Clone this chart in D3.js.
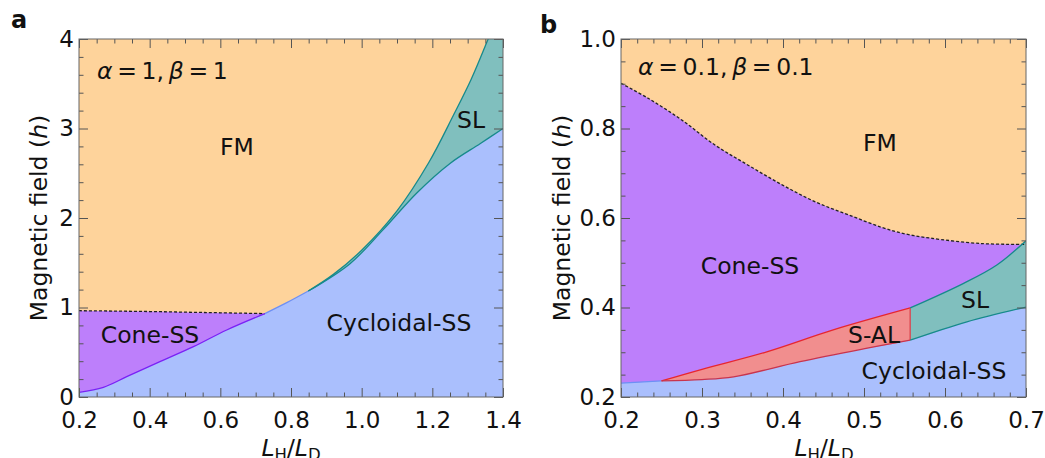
<!DOCTYPE html>
<html>
<head>
<meta charset="utf-8">
<script src="https://cdn.jsdelivr.net/npm/d3@7"></script>
<style>
body { margin: 0; background: #fff; }
text { font-family: "DejaVu Sans", sans-serif; fill: #111; }
.tick text { font-size: 23px; }
</style>
</head>
<body>
<div id="chart"></div>
<script>
// ---- panel a : alpha = 1, beta = 1  (pairs are [L_H/L_D, h])
var aConeTop    = [[0.2, 0.964], [0.3, 0.960], [0.4, 0.955], [0.5, 0.948], [0.6, 0.941], [0.726, 0.932]];
var aConeBottom = [[0.2, 0.052], [0.269, 0.108], [0.335, 0.227], [0.429, 0.395], [0.524, 0.562], [0.618, 0.749], [0.726, 0.932]];
var aFmCyc      = [[0.726, 0.932], [0.788, 1.054], [0.849, 1.184]];
var aSlTop      = [[0.849, 1.184], [0.92, 1.37], [1.0, 1.64], [1.1, 2.08], [1.19, 2.62], [1.26, 3.15], [1.31, 3.55], [1.358, 4.0], [1.4, 4.4]];
var aSlBottom   = [[0.849, 1.184], [0.967, 1.49], [1.061, 1.87], [1.156, 2.28], [1.25, 2.61], [1.335, 2.83], [1.4, 3.0]];
var aXTicks = [0.2, 0.4, 0.6, 0.8, 1.0, 1.2, 1.4];
var aYTicks = [0, 1, 2, 3, 4];

// ---- panel b : alpha = 0.1, beta = 0.1
var bConeTop   = [[0.2, 0.901], [0.234, 0.867], [0.275, 0.819], [0.316, 0.763], [0.357, 0.718], [0.399, 0.674],
                  [0.44, 0.636], [0.481, 0.607], [0.522, 0.579], [0.552, 0.564], [0.582, 0.555], [0.644, 0.543], [0.7, 0.541]];
var bCycCone   = [[0.2, 0.231], [0.25, 0.236]];
var bSalTop    = [[0.25, 0.236], [0.3, 0.262], [0.38, 0.301], [0.462, 0.35], [0.557, 0.399]];
var bSalBottom = [[0.25, 0.236], [0.3, 0.239], [0.339, 0.245], [0.421, 0.279], [0.504, 0.309], [0.557, 0.327]];
var bSlTop     = [[0.557, 0.399], [0.623, 0.454], [0.664, 0.495], [0.7, 0.549]];
var bSlBottom  = [[0.557, 0.327], [0.627, 0.368], [0.7, 0.401]];
var bXTicks = [0.2, 0.3, 0.4, 0.5, 0.6, 0.7];
var bYTicks = [0.2, 0.4, 0.6, 0.8, 1.0];

var width = 1045, height = 458;
var colFM = '#fed39b', colCone = '#bd7ffb', colCyc = '#aabffd', colSL = '#80bfbe', colSAL = '#f18e8e';

var svg = d3.select('#chart')
	.append('svg')
	.attr('width', width)
	.attr('height', height);

function panel(id, xs, ys, xMajor, xMinor, yMajor, yMinor, xFmt, yFmt) {
	var g = svg.append('g');
	var x0 = xs.range()[0], x1 = xs.range()[1], yTop = ys.range()[1], yBot = ys.range()[0];

	svg.append('clipPath').attr('id', id)
		.append('rect')
		.attr('x', x0).attr('y', yTop)
		.attr('width', x1 - x0).attr('height', yBot - yTop);

	var plot = g.append('g').attr('clip-path', 'url(#' + id + ')');
	plot.append('rect')
		.attr('x', x0).attr('y', yTop)
		.attr('width', x1 - x0).attr('height', yBot - yTop)
		.attr('fill', colFM);

	// axes with inward ticks on all four sides
	function addAxis(axis, tr, vals, size, fmt) {
		var a = g.append('g')
			.attr('transform', tr)
			.call(axis.tickValues(vals).tickSizeInner(-size).tickSizeOuter(0).tickFormat(fmt));
		a.select('.domain').remove();
		a.selectAll('.tick line').attr('stroke', '#555').attr('stroke-width', 1);
		return a;
	}
	var none = function () { return ''; };
	var bx = addAxis(d3.axisBottom(xs).tickPadding(15), 'translate(0,' + yBot + ')', xMajor, 9, xFmt);
	addAxis(d3.axisBottom(xs), 'translate(0,' + yBot + ')', xMinor, 4.5, none);
	addAxis(d3.axisTop(xs), 'translate(0,' + yTop + ')', xMajor, 9, none);
	addAxis(d3.axisTop(xs), 'translate(0,' + yTop + ')', xMinor, 4.5, none);
	var ly = addAxis(d3.axisLeft(ys).tickPadding(5), 'translate(' + x0 + ',0)', yMajor, 9, yFmt);
	addAxis(d3.axisLeft(ys), 'translate(' + x0 + ',0)', yMinor, 4.5, none);
	addAxis(d3.axisRight(ys), 'translate(' + x1 + ',0)', yMajor, 9, none);
	addAxis(d3.axisRight(ys), 'translate(' + x1 + ',0)', yMinor, 4.5, none);
	bx.selectAll('text').attr('fill', '#111');
	ly.selectAll('text').attr('fill', '#111');

	return { g: g, plot: plot, frame: function () {
		g.append('rect')
			.attr('x', x0).attr('y', yTop)
			.attr('width', x1 - x0).attr('height', yBot - yTop)
			.attr('fill', 'none').attr('stroke', '#666').attr('stroke-width', 1);
	} };
}

var curve = d3.curveCatmullRom.alpha(0.5);

function fillUnder(p, xs, ys, pts, colour) {
	var area = d3.area()
		.x(function (d) { return xs(d[0]); })
		.y0(ys.range()[0] + 2)
		.y1(function (d) { return ys(d[1]); })
		.curve(curve);
	p.plot.append('path').datum(pts).attr('d', area).attr('fill', colour);
}

function edge(p, xs, ys, pts, colour, dash) {
	var line = d3.line()
		.x(function (d) { return xs(d[0]); })
		.y(function (d) { return ys(d[1]); })
		.curve(curve);
	var path = p.plot.append('path').datum(pts).attr('d', line)
		.attr('fill', 'none').attr('stroke', colour).attr('stroke-width', 1.3);
	if (dash) path.attr('stroke-dasharray', dash);
}

function label(g, txt, x, y, size, anchor) {
	return g.append('text').attr('x', x).attr('y', y)
		.attr('font-size', size).attr('text-anchor', anchor || 'middle').text(txt);
}

function mathText(g, x, y, parts) {
	var t = g.append('text').attr('x', x).attr('y', y).attr('font-size', 23.5);
	parts.forEach(function (s) {
		var ts = t.append('tspan').text(s[0]);
		if (s[1]) ts.attr('font-style', 'italic');
	});
}

function axisTitles(g, cx, ylabX, ycy) {
	var xl = g.append('text').attr('x', cx).attr('y', 456).attr('font-size', 23.5).attr('text-anchor', 'middle');
	xl.append('tspan').attr('font-style', 'italic').text('L');
	xl.append('tspan').attr('font-size', 16.5).attr('dy', 3.5).text('H');
	xl.append('tspan').attr('dy', -3.5).text('/');
	xl.append('tspan').attr('font-style', 'italic').text('L');
	xl.append('tspan').attr('font-size', 16.5).attr('dy', 3.5).text('D');

	var yl = g.append('text').attr('font-size', 23.5).attr('text-anchor', 'middle')
		.attr('transform', 'translate(' + ylabX + ',' + ycy + ') rotate(-90)');
	yl.append('tspan').text('Magnetic field (');
	yl.append('tspan').attr('font-style', 'italic').text('h');
	yl.append('tspan').text(')');
}

// ---------- panel a
var ax = d3.scaleLinear().domain([0.2, 1.4]).range([79, 503]);
var ay = d3.scaleLinear().domain([0, 4]).range([397, 39]);
var pa = panel('clipA', ax, ay, aXTicks, d3.range(0.25, 1.4, 0.05).filter(function (v) { return Math.abs(v * 5 - Math.round(v * 5)) > 1e-6; }),
	aYTicks, d3.range(0.2, 4, 0.2).filter(function (v) { return Math.abs(v - Math.round(v)) > 1e-6; }),
	d3.format('.1f'), d3.format('d'));

var aCycTop = aConeBottom.concat(aFmCyc.slice(1), aSlBottom.slice(1));
fillUnder(pa, ax, ay, aConeTop, colCone);
fillUnder(pa, ax, ay, aSlTop, colSL);
fillUnder(pa, ax, ay, aCycTop, colCyc);
edge(pa, ax, ay, aConeTop, '#222', '3,2');
edge(pa, ax, ay, aConeBottom, '#7a22f5');
edge(pa, ax, ay, aFmCyc, '#6d90f5');
edge(pa, ax, ay, aSlTop, '#178a8c');
edge(pa, ax, ay, aSlBottom, '#178a8c');
pa.frame();

label(pa.g, 'FM', 237, 155, 23.5);
label(pa.g, 'SL', 471, 128, 23.5);
label(pa.g, 'Cone-SS', 150, 343, 23.5);
label(pa.g, 'Cycloidal-SS', 399, 331, 23.5);
mathText(pa.g, 97, 79, [['\u03b1', 1], ['\u2009=\u20091,\u2009'], ['\u03b2', 1], ['\u2009=\u20091']]);
label(pa.g, 'a', 11, 28, 24, 'start').attr('font-weight', 'bold');
axisTitles(pa.g, 291, 47, 218);

// ---------- panel b
var bx = d3.scaleLinear().domain([0.2, 0.7]).range([621, 1026]);
var by = d3.scaleLinear().domain([0.2, 1.0]).range([397, 39]);
var pb = panel('clipB', bx, by, bXTicks, d3.range(0.22, 0.7, 0.02).filter(function (v) { return Math.abs(v * 10 - Math.round(v * 10)) > 1e-6; }),
	bYTicks, d3.range(0.25, 1.0, 0.05).filter(function (v) { return Math.abs(v * 5 - Math.round(v * 5)) > 1e-6; }),
	d3.format('.1f'), d3.format('.1f'));

var bCycTop = bCycCone.concat(bSalBottom.slice(1), bSlBottom.slice(1));
fillUnder(pb, bx, by, bConeTop, colCone);
fillUnder(pb, bx, by, bSlTop, colSL);
fillUnder(pb, bx, by, bSalTop, colSAL);
fillUnder(pb, bx, by, bCycTop, colCyc);
edge(pb, bx, by, bConeTop, '#222', '3,2');
edge(pb, bx, by, bCycCone, '#6d90f5');
edge(pb, bx, by, bSalTop, '#e8262e');
edge(pb, bx, by, bSalBottom, '#c8344e');
edge(pb, bx, by, [bSalTop[bSalTop.length - 1], bSalBottom[bSalBottom.length - 1]], '#d9444c');
edge(pb, bx, by, bSlTop, '#178a8c');
edge(pb, bx, by, bSlBottom, '#178a8c');
pb.frame();

label(pb.g, 'FM', 880, 151, 23.5);
label(pb.g, 'Cone-SS', 750, 274, 23.5);
label(pb.g, 'SL', 975, 308, 23.5);
label(pb.g, 'S-AL', 874, 343, 23.5);
label(pb.g, 'Cycloidal-SS', 934, 379, 23.5);
mathText(pb.g, 638, 75, [['\u03b1', 1], ['\u2009=\u20090.1,\u2009'], ['\u03b2', 1], ['\u2009=\u20090.1']]);
label(pb.g, 'b', 540, 33, 24, 'start').attr('font-weight', 'bold');
axisTitles(pb.g, 824, 570, 218);
</script>
</body>
</html>
